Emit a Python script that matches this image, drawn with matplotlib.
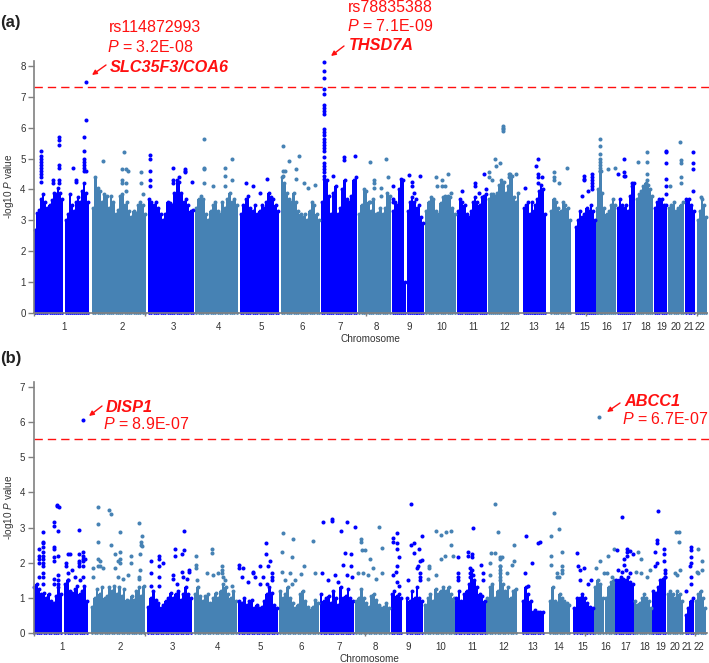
import numpy as np
import matplotlib
matplotlib.use('Agg')
import matplotlib.pyplot as plt

plt.rcParams['font.family'] = ['Liberation Sans', 'DejaVu Sans']
plt.rcParams['mathtext.fontset'] = 'custom'
plt.rcParams['mathtext.it'] = 'Liberation Sans:italic'
plt.rcParams['mathtext.rm'] = 'Liberation Sans'

W, H = 709, 663
DARK = '#0000ff'
LIGHT = '#4682b4'
RED = '#ff1010'
GREY = '#808080'

chrom_names = [str(i) for i in range(1, 23)]

# Panel a: dense part of each chromosome, position in genome units
a_seg_chrom = [1, 1, 2, 3, 4, 5, 6, 7, 8, 9, 9, 9, 10, 11, 12, 13, 14, 15, 16, 16, 16, 17, 18, 19, 20, 21, 22]
a_seg_start = [34, 65, 92, 148, 195, 240, 281, 321, 358, 392, 404, 407, 425, 457, 488, 523, 550, 575, 596, 604.5, 605.5, 617, 636, 654, 668, 685, 697]
a_seg_end = [63, 89, 146, 194, 238, 279, 320, 357, 391, 404, 405.5, 424, 456, 487, 519, 546, 571, 596, 604.5, 605.5, 616, 635, 653, 667, 684, 695, 707]
a_seg_tops = [
    [2.7, 3.25, 3.35, 3.7, 3.85, 3.6, 3.4, 3.5, 3.65, 3.9, 3.85, 4.05, 3.9, 3.7],
    [3.0, 3.2, 3.85, 3.5, 3.3, 3.6, 3.75, 3.6, 3.95, 4.2, 3.9, 3.6],
    [3.4, 4.4, 4.05, 3.95, 3.6, 3.85, 3.8, 3.4, 3.8, 3.6, 3.2, 3.35, 3.8, 3.85, 3.5, 3.6, 3.3, 3.1, 3.3, 3.25, 3.5, 3.6, 3.5, 3.2],
    [3.7, 3.6, 3.5, 3.6, 3.4, 3.2, 3.0, 3.2, 3.6, 3.55, 3.5, 3.9, 4.3, 4.25, 3.9, 3.6, 3.7, 3.5, 3.3, 3.35],
    [3.4, 3.7, 3.8, 3.7, 3.2, 3.0, 3.3, 3.5, 3.6, 3.3, 3.2, 3.6, 3.4, 3.7, 3.9, 3.6, 3.7, 3.5],
    [3.2, 3.5, 3.7, 3.8, 3.4, 3.3, 3.5, 3.2, 3.3, 3.5, 3.4, 3.6, 3.9, 3.75, 3.7, 3.5, 3.3],
    [4.4, 4.2, 3.9, 3.7, 3.6, 3.9, 3.6, 3.3, 3.2, 3.1, 3.2, 3.0, 3.3, 3.6, 3.5, 3.2, 3.0],
    [3.6, 4.35, 4.3, 3.8, 3.2, 3.9, 4.1, 3.2, 3.4, 4.0, 4.3, 3.7, 3.6, 3.8, 4.3, 4.4],
    [3.2, 3.5, 4.0, 3.95, 3.6, 3.3, 3.7, 3.2, 3.25, 3.4, 3.2, 3.4, 3.9, 3.8],
    [3.3, 3.6, 3.5, 4.0, 4.35, 4.3],
    [1.0],
    [3.3, 3.6, 3.75, 3.6, 3.7, 3.4, 3.5, 3.1, 2.9],
    [3.3, 3.6, 3.75, 3.7, 3.3, 3.2, 3.55, 3.75, 3.8, 3.8, 3.75, 3.4, 3.2],
    [3.3, 3.7, 3.6, 3.5, 3.2, 3.1, 3.3, 3.6, 3.75, 3.6, 3.5, 3.75, 3.8, 3.85],
    [3.7, 3.85, 3.85, 3.8, 3.9, 4.15, 4.3, 4.25, 3.9, 4.1, 4.5, 4.45, 3.75, 3.6, 3.9],
    [3.4, 3.5, 3.6, 3.2, 3.6, 3.3, 3.5, 3.7, 3.95, 4.15, 4.0, 3.2],
    [3.3, 3.7, 3.6, 3.4, 3.3, 3.6, 3.5, 3.4, 3.0],
    [2.8, 3.0, 3.3, 3.1, 3.2, 3.4, 3.3, 3.5, 3.3, 3.0],
    [3.4, 4.0, 4.6, 4.6, 3.9, 3.4],
    [1.4],
    [3.2, 3.3, 3.5, 3.7, 3.5],
    [3.4, 3.7, 3.5, 3.4, 3.5, 3.3, 3.8, 4.1, 4.2],
    [3.7, 3.85, 3.95, 4.1, 4.2, 4.15, 4.0, 3.8],
    [3.4, 3.6, 3.7, 3.7, 3.5, 3.5],
    [3.4, 3.5, 3.6, 3.3, 3.4, 3.5, 3.6],
    [3.7, 3.7, 3.5, 3.3],
    [3.0, 3.3, 3.7, 3.5, 3.1],
]

# Panel a: single SNPs above the dense part (chromosome, position, -log10 P)
a_snps = [
    (1, 40.7, [5.25, 5.1, 5.0, 4.9, 4.8, 4.7, 4.6, 4.5, 4.4, 4.25]), (1, 58.7, [5.7, 5.6, 5.45, 4.8, 4.7, 4.3, 4.2]),
    (1, 53, [4.3, 4.2]), (1, 73.3, [4.7]), (1, 76, [4.3, 4.25]), (1, 84, [5.7, 5.25, 5.0, 4.9, 4.8, 4.7, 4.6]),
    (1, 86.3, [7.48, 6.26, 4.6]),
    (2, 103.3, [4.92]), (2, 124.3, [5.2]), (2, 122.3, [4.65, 4.3, 4.2]), (2, 126, [4.65, 3.95, 4.2]), (2, 128.3, [4.6]),
    (2, 141.3, [4.55, 4.2]), (2, 143.3, [3.85]),
    (3, 150.3, [5.13, 5.0, 4.6, 4.3, 4.1]), (3, 172.7, [4.7, 4.3, 4.2]), (3, 179, [4.4]), (3, 185, [4.6, 4.65, 4.55]),
    (3, 191.7, [4.25]),
    (4, 203.7, [5.65, 4.7, 4.65, 4.2]), (4, 213.3, [4.1]), (4, 224.7, [4.7, 4.45, 4.1]), (4, 232, [4.98, 4.3]),
    (5, 246, [4.2]), (5, 252.7, [4.1]), (5, 267.3, [4.35]), (5, 260, [3.9]),
    (6, 282.7, [5.42, 4.6, 4.45]), (6, 289.3, [4.93]), (6, 285, [4.6]), (6, 296, [4.65, 4.35]), (6, 299.3, [5.07]),
    (6, 304, [4.2]), (6, 314.7, [4.15]), (6, 308.3, [4.05]),
    (7, 324, [8.12, 7.85, 7.6, 7.25, 7.1, 6.75, 6.65, 6.55, 6.45, 5.95, 5.85, 5.75, 5.65, 5.55, 5.45, 5.35, 5.25, 5.05, 4.85, 4.75, 4.65, 4.55, 4.45]),
    (7, 332.7, [4.43]), (7, 344, [5.05, 4.95]), (7, 354.5, [5.07]),
    (8, 370, [4.88, 3.6]), (8, 386, [4.99]), (8, 374.3, [4.3, 4.2, 4.05]), (8, 380.7, [4.05, 3.8]), (8, 387.7, [4.4]),
    (9, 393.3, [4.1, 3.7, 3.6]), (9, 409, [4.48]), (9, 420, [4.43]), (9, 412.3, [4.25, 4.1]), (9, 414, [3.9]),
    (10, 435.7, [4.4]), (10, 441.7, [4.3, 4.1]), (10, 447.7, [4.5]), (10, 436.7, [4.1]), (10, 445.3, [4.1]), (10, 450.7, [3.9]),
    (11, 461.7, [3.95]), (11, 475, [4.2, 4.1]), (11, 479.3, [3.9]), (11, 484, [4.5]), (11, 486, [4.0]),
    (12, 489.3, [4.55, 4.4]), (12, 495, [5.0]), (12, 495.7, [4.75]), (12, 500.3, [4.85]), (12, 491.7, [4.3]),
    (12, 503.3, [6.05, 6.0, 5.95, 5.9]), (12, 509.3, [4.5, 4.4]), (12, 516, [4.5]),
    (13, 525, [4.05]), (13, 537.7, [5.0, 4.5, 4.4]), (13, 536, [4.75]), (13, 542.3, [4.4]), (13, 538.3, [4.2]),
    (14, 554, [4.55, 4.4, 4.3]), (14, 559.3, [4.2]), (14, 567, [4.7]),
    (15, 584.3, [4.45, 4.35, 4.3]), (15, 592.3, [4.5, 4.4, 4.3, 4.2, 4.1, 4.0]), (15, 588.3, [3.95]), (15, 581.7, [3.8]),
    (16, 600, [5.65, 5.4, 5.15, 5.0, 4.9, 4.8, 4.7, 4.6]), (16, 607.7, [4.65]), (16, 615, [4.7]),
    (17, 618, [4.5]), (17, 624.3, [5.0, 4.55, 4.45]), (17, 625, [4.45]), (17, 631.7, [4.2]),
    (18, 638.3, [4.9]), (18, 647.3, [5.2, 4.9, 4.5, 4.3]),
    (19, 665.7, [5.25, 5.2, 4.85, 4.35, 4.1, 3.85]),
    (20, 680, [5.55]), (20, 681.3, [4.95, 4.85, 4.4, 4.2]), (20, 669.7, [4.1]),
    (21, 692.7, [5.2, 4.85, 4.65, 3.95]),
    (22, 700.7, [3.75]),
]

# Panel b
b_seg_chrom = [1, 1, 2, 3, 4, 5, 6, 7, 8, 9, 9, 10, 11, 12, 13, 14, 15, 16, 16, 17, 18, 19, 20, 21, 22]
b_seg_start = [33, 64, 91, 147, 194, 238, 279, 320, 355, 391, 406, 424, 455, 486, 522, 549, 573, 594, 605, 615, 634, 652, 667, 685, 695]
b_seg_end = [62, 88, 145, 192, 237, 278, 319, 354, 390, 402, 423, 455, 486, 517, 544, 570, 594, 604, 615, 634, 652, 666, 683, 694, 706]
b_seg_tops = [
    [1.3, 1.4, 1.25, 1.1, 1.15, 1.0, 1.1, 0.9, 0.85, 1.05, 1.3, 1.1],
    [1.4, 1.5, 1.2, 1.15, 1.25, 1.35, 1.1, 1.2, 1.35, 0.9],
    [0.75, 1.0, 1.25, 1.1, 1.3, 1.0, 1.05, 1.3, 1.2, 1.35, 1.1, 1.3, 1.05, 1.25, 0.95, 0.9, 1.05, 0.95, 1.2, 1.3, 1.05, 1.35],
    [0.75, 1.0, 1.2, 0.95, 0.85, 0.7, 0.8, 0.9, 1.0, 1.15, 1.0, 1.1, 1.2, 0.95, 1.1, 1.3, 1.1, 1.0],
    [1.1, 1.3, 1.05, 0.9, 1.05, 1.1, 0.85, 1.0, 1.15, 1.0, 1.2, 1.4, 1.3, 1.1, 1.0, 1.2, 0.9],
    [0.9, 0.85, 1.0, 0.8, 0.9, 0.95, 0.7, 0.8, 0.7, 0.75, 0.9, 1.1, 1.3, 1.15, 0.8, 0.7],
    [1.2, 1.0, 1.1, 1.3, 1.0, 0.85, 0.7, 0.8, 1.1, 1.2, 0.9, 0.75, 0.65, 0.75, 0.95, 0.85],
    [1.1, 0.9, 1.0, 1.05, 0.85, 1.2, 1.0, 0.8, 1.3, 1.0, 1.05, 1.25, 1.0, 0.9],
    [0.9, 1.0, 1.25, 1.0, 0.85, 0.75, 1.05, 1.1, 0.95, 0.8, 0.7, 0.75, 0.85, 0.7],
    [1.1, 1.2, 1.05, 1.1, 1.0],
    [1.0, 0.9, 1.2, 1.0, 1.3, 1.0, 0.9],
    [0.8, 1.0, 1.1, 0.9, 1.25, 1.1, 1.2, 1.3, 1.2, 1.3, 1.1, 1.0],
    [1.0, 1.2, 0.9, 1.1, 1.2, 1.4, 1.8, 1.5, 1.3, 1.1, 1.05, 0.9],
    [1.0, 1.3, 1.4, 1.0, 1.2, 1.9, 1.4, 1.2, 1.3, 1.0, 1.2, 1.25],
    [0.9, 1.3, 1.1, 0.9, 0.6, 0.65, 0.6, 0.6, 0.6],
    [0.9, 1.3, 0.9, 0.85, 1.1, 1.0, 0.9, 0.85, 0.8],
    [0.7, 1.0, 1.0, 1.1, 1.0, 0.85, 0.75, 0.7],
    [1.3, 1.5, 1.4, 1.0],
    [1.0, 1.3, 1.45, 1.5],
    [1.5, 1.5, 1.6, 1.55, 1.5, 1.6, 1.45, 1.4],
    [0.9, 0.8, 0.85, 1.0, 1.1, 1.0, 0.9, 0.7],
    [1.2, 1.15, 1.3, 1.5, 1.55, 1.6],
    [1.1, 1.2, 1.1, 1.0, 1.2, 1.1, 0.9],
    [0.5, 0.7, 0.9, 1.0],
    [0.9, 1.1, 1.2, 1.0, 0.7],
]

b_snps = [
    (1, 43.3, [2.87, 2.6, 2.55, 2.45, 2.3, 2.2, 2.1, 2.0, 1.9, 1.7, 1.6, 1.4]), (1, 39.3, [2.38, 2.2, 2.1, 2.0, 1.6]),
    (1, 54, [3.15, 3.05, 2.45, 2.4, 2.15, 2.05, 1.55, 1.4]), (1, 57.3, [3.65, 3.62]), (1, 59, [3.58]), (1, 58.3, [2.9, 2.2, 1.65, 1.5, 1.4]),
    (1, 79, [2.92]), (1, 68.3, [2.25, 1.7, 1.5]), (1, 70, [2.25]), (1, 66, [2.0, 1.9]), (1, 71.7, [1.8]),
    (1, 79.3, [2.25, 2.05, 2.0, 1.9]), (1, 83.3, [2.3, 2.2, 2.1, 2.05, 1.9, 1.6]), (1, 85.3, [2.1]), (1, 75, [1.6]), (1, 80, [1.5]), (1, 83, [6.05]),
    (2, 97.7, [3.6, 3.1, 2.6, 2.1, 1.9]), (2, 93.3, [1.85, 1.6]), (2, 100, [1.9, 2.05]), (2, 103.3, [1.85]),
    (2, 109.3, [3.5]), (2, 111.3, [3.4, 2.5]), (2, 120.3, [2.87]), (2, 115, [2.25, 1.85]), (2, 120, [2.3, 2.1, 2.0]), (2, 118.3, [2.05, 1.6]),
    (2, 130.7, [2.18, 2.0]), (2, 139, [3.12]), (2, 141.7, [2.75, 2.48]), (2, 140.7, [2.6, 2.5]), (2, 140.3, [2.25, 1.8]),
    (2, 128.3, [1.65]), (2, 139, [1.6, 1.55]), (2, 123.3, [1.55]),
    (3, 150.7, [2.05, 1.7, 1.35]), (3, 159, [2.2, 2.1, 1.9, 1.6, 1.35]), (3, 162.7, [2.0]), (3, 175, [2.4, 2.2]), (3, 184, [2.9, 2.35]),
    (3, 181.7, [2.25]), (3, 189.3, [1.8, 1.75]), (3, 182.3, [1.75]), (3, 173.3, [1.65, 1.55]), (3, 183.3, [1.6]), (3, 186.7, [1.55]), (3, 176.7, [1.4]),
    (4, 195.7, [2.18, 1.95, 1.85]), (4, 211.7, [2.4, 2.28]), (4, 196.7, [1.5]), (4, 207.3, [1.7]), (4, 213.3, [1.65]), (4, 218.3, [1.7]),
    (4, 221.7, [1.9, 1.8, 1.7]), (4, 223.3, [1.6]), (4, 225, [1.5]), (4, 231.7, [1.35]),
    (5, 239.3, [1.95, 1.85]), (5, 243.3, [1.85]), (5, 241.7, [1.6]), (5, 260, [1.9, 1.4]), (5, 266, [2.57, 2.25]), (5, 270, [2.05]), (5, 268.3, [1.9]),
    (5, 253.3, [1.75, 1.7]), (5, 255, [1.6]), (5, 271.7, [1.7, 1.6, 1.5]), (5, 263.3, [1.6]), (5, 248.3, [1.45]), (5, 266.7, [1.4]),
    (6, 281.7, [2.3, 1.75]), (6, 283.3, [2.85]), (6, 293.3, [2.67]), (6, 292.3, [2.15]), (6, 312.7, [2.63]), (6, 304, [1.92]),
    (6, 290, [1.7]), (6, 301, [1.68]), (6, 315, [1.7]), (6, 285, [1.5]), (6, 295, [1.5]), (6, 291.7, [1.4]),
    (7, 323.3, [3.15]), (7, 331.7, [3.2, 3.25]), (7, 347.3, [3.17]), (7, 341, [2.9]), (7, 345, [2.27]), (7, 350.7, [2.25, 1.9]), (7, 343.3, [1.95]),
    (7, 321.7, [1.7]), (7, 335, [1.65]), (7, 346.7, [1.65]), (7, 328.3, [1.5]), (7, 338.3, [1.45]), (7, 351.7, [1.6]), (7, 354.5, [3.03]),
    (8, 361, [2.68, 2.6]), (8, 361.7, [2.35]), (8, 365, [2.35]), (8, 370, [2.12]), (8, 379, [3.03]), (8, 382.3, [2.43]), (8, 373.3, [1.85]),
    (8, 358.3, [1.7]), (8, 363.3, [1.7]), (8, 368.3, [1.65]), (8, 381.7, [1.7]), (8, 375.7, [1.55]),
    (9, 393.3, [2.7, 2.6, 1.65]), (9, 396.7, [2.85, 2.55, 2.4, 1.9, 1.45]), (9, 399, [2.15, 1.35]), (9, 395.7, [1.75]),
    (9, 411, [3.67, 2.5]), (9, 414, [2.55]), (9, 421.7, [2.75]), (9, 419.3, [2.4]), (9, 414.3, [2.28]), (9, 420, [2.05]), (9, 421.7, [2.08]),
    (9, 418.3, [1.9]), (9, 417.3, [1.85]), (9, 407.7, [1.5]), (9, 420, [1.7, 1.6, 1.5]),
    (10, 436.3, [2.9]), (10, 440.7, [2.8]), (10, 445.7, [2.88]), (10, 451, [2.9]), (10, 450.7, [2.5]), (10, 441, [2.1]), (10, 445, [2.2]),
    (10, 453, [2.2]), (10, 429, [1.85, 1.9]), (10, 436, [1.65]), (10, 428.3, [1.55]),
    (11, 458.3, [2.17]), (11, 472.7, [2.98]), (11, 468.3, [2.3, 2.2]), (11, 471.7, [2.25, 2.15]), (11, 481, [1.95]), (11, 458.3, [1.7, 1.6, 1.5]),
    (11, 470, [1.85, 1.7, 1.6]), (11, 473.3, [1.65]), (11, 482.7, [1.7, 1.5]),
    (12, 495, [3.67]), (12, 497.7, [2.88]), (12, 490.7, [2.28]), (12, 495, [2.28]), (12, 490, [2.0, 1.65]), (12, 500, [2.1, 2.15, 1.9, 1.8, 1.7, 1.6, 1.5]),
    (12, 502.3, [2.15]), (12, 514.3, [2.5, 2.05]), (12, 511.7, [1.95]), (12, 507.3, [1.7]),
    (13, 525.7, [2.75]), (13, 538.3, [2.55]), (13, 540, [2.6]), (13, 531.7, [2.0]), (13, 525, [1.7]), (13, 527.7, [1.35]),
    (14, 551, [2.77, 2.18, 1.95]), (14, 553.7, [3.43]), (14, 559.3, [2.95]), (14, 562.3, [2.3]), (14, 561.7, [1.9, 1.8, 1.7]),
    (14, 556.7, [1.7, 1.6]), (14, 559, [1.6]),
    (15, 576.7, [2.27]), (15, 577.7, [1.9]), (15, 580, [1.8, 1.5]), (15, 584.3, [1.85]), (15, 591, [1.5]), (15, 588.3, [1.4]),
    (16, 599, [6.15]), (16, 600.3, [2.05]), (16, 608.3, [2.2]), (16, 595.7, [1.85]), (16, 614.3, [2.4]), (16, 604.3, [1.7]), (16, 606.7, [1.7]), (16, 611.7, [1.6]),
    (17, 617, [2.35]), (17, 622.3, [3.3]), (17, 626.7, [2.4, 2.3, 2.2]), (17, 630, [2.33]), (17, 633.3, [2.25]), (17, 624.3, [2.1, 1.95]),
    (17, 618.3, [1.8]), (17, 621.7, [1.75]), (17, 625.7, [1.8]), (17, 630.3, [1.7]),
    (18, 637.7, [2.3]), (18, 641, [2.1, 1.7]), (18, 635.7, [1.75]), (18, 650, [1.8]), (18, 646.7, [1.6]),
    (19, 658, [3.47]), (19, 656.7, [2.65, 2.55, 2.0]), (19, 655, [2.3, 1.9]), (19, 664.3, [2.4, 2.25, 2.05]), (19, 665, [1.8, 1.7, 1.6]),
    (20, 675.7, [2.87]), (20, 679.3, [2.87, 2.6]), (20, 680, [1.8]), (20, 675, [1.7]), (20, 676.7, [1.65]),
    (21, 691, [2.45, 2.35, 2.15, 2.0]), (21, 690, [1.9]), (21, 690.7, [1.6, 1.4]), (21, 686, [1.2]),
    (22, 697.7, [2.4, 1.7]), (22, 701.7, [2.05, 1.8]), (22, 696.7, [1.75]),
]

a_tick_pos = [34, 145, 366, 586, 696.5]
a_label_pos = [64, 122, 173, 218, 261, 302, 340, 376, 409, 442, 473, 505, 534, 560, 585, 607, 627, 646, 662, 676, 689, 700]
b_tick_pos = [33.5, 144.5, 364.5, 584.5, 695]
b_label_pos = [62, 120, 172, 217, 260, 301, 339, 375, 408, 441, 472, 504, 533, 559, 583, 606, 626, 645, 661, 675, 687, 699]


def ftext(x, y, s, **kw):
    # x, y counted from top left of the picture
    plt.figtext(x / W, 1 - y / H, s, va='center', **kw)


def arrow(fig, start, end):
    fig.add_artist(matplotlib.patches.FancyArrowPatch(
        (start[0] / W, 1 - start[1] / H), (end[0] / W, 1 - end[1] / H), transform=fig.transFigure,
        arrowstyle='-|>', mutation_scale=7, color=RED, lw=1.0, shrinkA=0, shrinkB=0))


def panel(fig, box, ymax, yticks, seg_chrom, seg_start, seg_end, seg_tops, snps, thresh, tick_pos, label_pos, label_y, left):
    x0, x1, y_top, y_zero = box
    ax = fig.add_axes([x0 / W, 1 - y_zero / H, (x1 - x0) / W, (y_zero - y_top) / H])
    ax.set_xlim(left, left + x1 - x0)
    ax.set_ylim(0, ymax)

    for chrom, start, end, tops in zip(seg_chrom, seg_start, seg_end, seg_tops):
        color = DARK if chrom % 2 else LIGHT
        edges = np.linspace(start, end, len(tops) + 1)
        mid = (edges[:-1] + edges[1:]) / 2
        ax.bar(mid, tops, width=(edges[1] - edges[0]) * 1.05, color=color, linewidth=0, antialiased=False, zorder=2)
        ax.scatter(mid, tops, s=8, color=color, linewidths=0, zorder=3, clip_on=False)
        ax.scatter(mid, np.zeros(len(mid)), s=4, color=color, linewidths=0, zorder=1, clip_on=False)

    for chrom, pos, values in snps:
        color = DARK if chrom % 2 else LIGHT
        ax.scatter([pos] * len(values), values, s=8.5, color=color, linewidths=0, zorder=3, clip_on=False)

    ax.axhline(thresh, color=RED, lw=1.0, dashes=(6.0, 3.6), zorder=4)

    for side in ['top', 'right']:
        ax.spines[side].set_visible(False)
    ax.spines['left'].set_color(GREY)
    ax.spines['bottom'].set_color(GREY)
    ax.spines['left'].set_linewidth(1.2)
    ax.spines['bottom'].set_linewidth(1.2)
    ax.spines['left'].set_zorder(5)
    ax.spines['bottom'].set_zorder(5)
    ax.spines['bottom'].set_bounds(left, left + x1 - x0 - 2)
    ax.set_yticks(yticks)
    ax.tick_params(axis='y', length=4, width=1.0, color=GREY, labelsize=7, labelcolor='#333333', pad=2)
    ax.set_xticks(tick_pos)
    ax.set_xticklabels([])
    ax.tick_params(axis='x', length=2.5, width=1.0, color=GREY)

    for name, pos in zip(chrom_names, label_pos):
        ftext(pos, label_y, name, ha='center', fontsize=7, color='#333333')
    return ax


fig = plt.figure(figsize=(W / 100, H / 100), dpi=100)

panel(fig, (34, 709, 61, 313), 8.16, range(0, 9), a_seg_chrom, a_seg_start, a_seg_end, a_seg_tops,
      a_snps, 7.31, a_tick_pos, a_label_pos, 327, 34)
panel(fig, (33.5, 709, 381.5, 633), 7.16, range(0, 8), b_seg_chrom, b_seg_start, b_seg_end, b_seg_tops,
      b_snps, 5.53, b_tick_pos, b_label_pos, 647, 33.5)

ftext(370, 339, 'Chromosome', ha='center', fontsize=7.2, color='#333333')
ftext(369, 659, 'Chromosome', ha='center', fontsize=7.2, color='#333333')
plt.figtext(9 / W, 1 - 186 / H, r'-log10 $\mathit{P}$ value', rotation=90, ha='center', va='center', fontsize=7.2, color='#333333')
plt.figtext(9 / W, 1 - 507.5 / H, r'-log10 $\mathit{P}$ value', rotation=90, ha='center', va='center', fontsize=7.2, color='#333333')

ftext(0, 22, '(a)', ha='left', fontsize=12, fontweight='bold', color='#222222')
ftext(0, 359, '(b)', ha='left', fontsize=12, fontweight='bold', color='#222222')

ftext(108.5, 27, 'rs114872993', ha='left', fontsize=11.5, color=RED)
ftext(107, 47, r'$\mathit{P}$ = 3.2E-08', ha='left', fontsize=11.5, color=RED)
ftext(110, 67, 'SLC35F3/COA6', ha='left', fontsize=11.7, color=RED, fontweight='bold', style='italic')
ftext(348, 7, 'rs78835388', ha='left', fontsize=11.5, color=RED)
ftext(347, 26, r'$\mathit{P}$ = 7.1E-09', ha='left', fontsize=11.5, color=RED)
ftext(349, 46, 'THSD7A', ha='left', fontsize=11.7, color=RED, fontweight='bold', style='italic')
ftext(106, 407, 'DISP1', ha='left', fontsize=11.7, color=RED, fontweight='bold', style='italic')
ftext(103, 424, r'$\mathit{P}$ = 8.9E-07', ha='left', fontsize=11.5, color=RED)
ftext(624, 402, 'ABCC1', ha='left', fontsize=11.7, color=RED, fontweight='bold', style='italic')
ftext(622, 419, r'$\mathit{P}$ = 6.7E-07', ha='left', fontsize=11.5, color=RED)

arrow(fig, (106, 65), (92, 75))
arrow(fig, (344, 46), (331, 56))
arrow(fig, (102, 406), (89, 416))
arrow(fig, (620, 403), (607, 412))

fig.savefig('out.png', dpi=100)
